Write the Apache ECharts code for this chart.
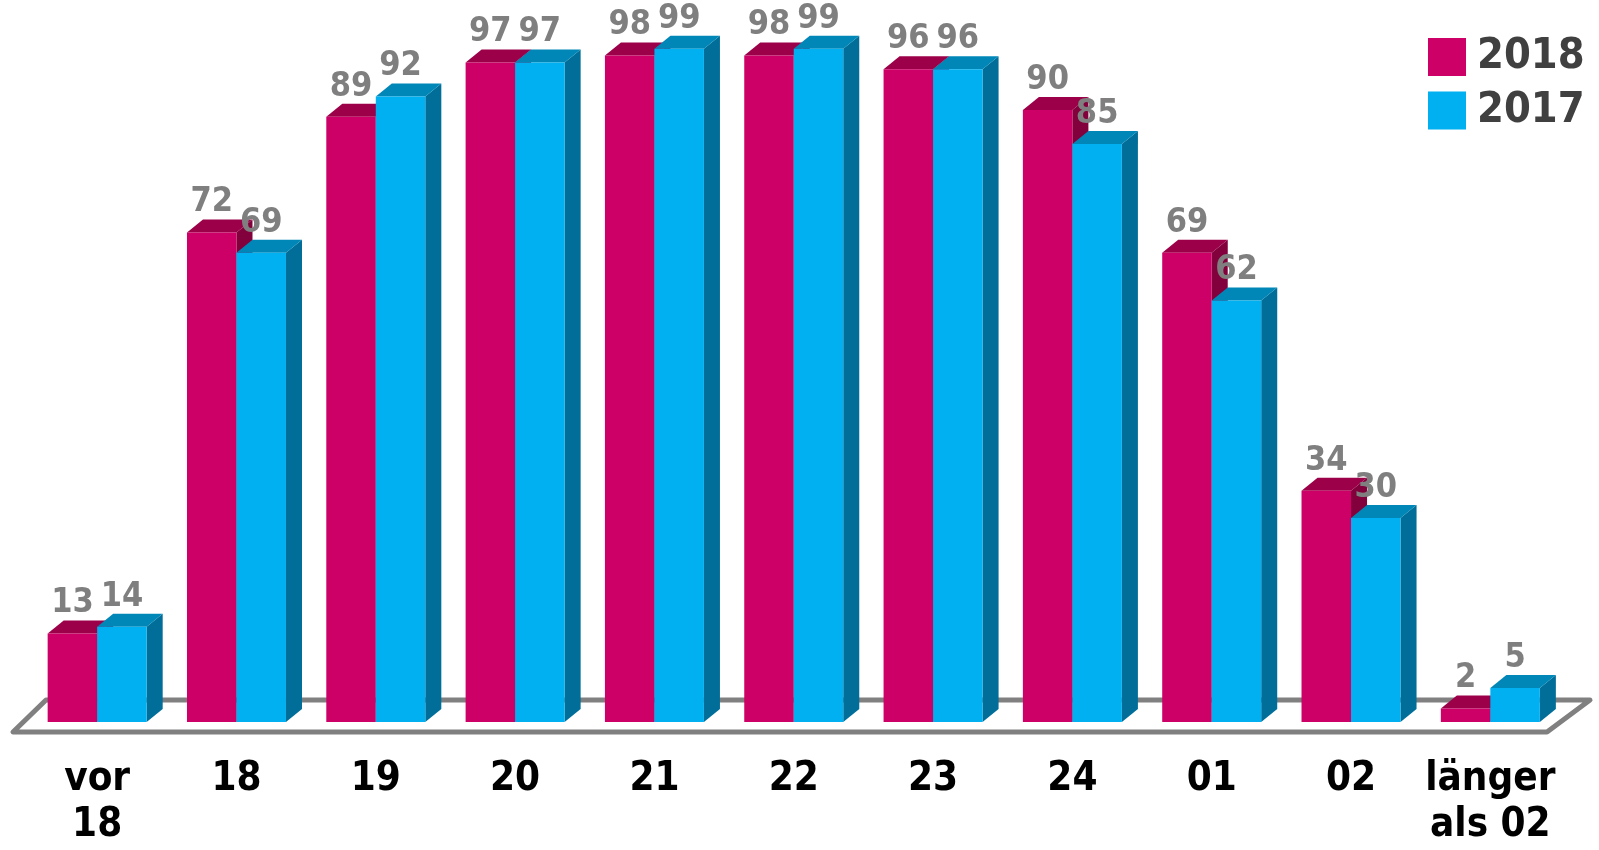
<!DOCTYPE html>
<html>
<head>
<meta charset="utf-8">
<script src="https://cdn.jsdelivr.net/npm/echarts@6/dist/echarts.min.js"></script>
<style>
html,body{margin:0;padding:0;background:#fff;}
#chart{width:1599px;height:850px;}
</style>
</head>
<body>
<div id="chart"></div>
<script>
const categories = ['vor\n18', '18', '19', '20', '21', '22', '23', '24', '01', '02', 'länger\nals 02'];
const values2018 = [13, 72, 89, 97, 98, 98, 96, 90, 69, 34, 2];
const values2017 = [14, 69, 92, 97, 99, 99, 96, 85, 62, 30, 5];
const seriesNames = ['2018', '2017'];

const FONT = '"DejaVu Sans Condensed", "DejaVu Sans", sans-serif';
const palette = [
  { front: '#CC0066', top: '#9C0049', side: '#82003B' },
  { front: '#00B0F0', top: '#0087B8', side: '#006E99' }
];

function barRenderer(idx) {
  return function (params, api) {
    const cat = api.value(0), v = api.value(1);
    const base = api.coord([cat, 0]);
    const top = api.coord([cat, v]);
    const bw = api.size([1, 0])[0];
    const w = bw * 0.3553;
    const dx = bw * 0.115, dy = 13;
    const x0 = base[0] + (idx === 0 ? -w : 0);
    const x1 = x0 + w;
    const yb = base[1], yt = top[1];
    const c = palette[idx];
    return {
      type: 'group',
      children: [
        { type: 'polygon', shape: { points: [[x1, yb], [x1 + dx, yb - dy], [x1 + dx, yt - dy], [x1, yt]] }, style: { fill: c.side } },
        { type: 'polygon', shape: { points: [[x0, yt], [x1, yt], [x1 + dx, yt - dy], [x0 + dx, yt - dy]] }, style: { fill: c.top } },
        { type: 'rect', shape: { x: x0, y: yt, width: w, height: yb - yt }, style: { fill: c.front } },
        { type: 'text', style: { text: String(v), x: (x0 + x1) / 2, y: yt - 30, align: 'center', verticalAlign: 'middle', fill: '#7F7F7F', font: 'bold 34px ' + FONT } }
      ]
    };
  };
}

function floorRenderer(params, api) {
  const bw = api.size([1, 0])[0];
  const first = api.coord([0, 0]);
  const last = api.coord([categories.length - 1, 0]);
  const fl = first[0] - bw / 2 - 14.5, fr = last[0] + bw / 2 - 13;
  const yf = first[1] + 10, yk = first[1] - 22;
  return {
    type: 'polygon',
    shape: { points: [[fl, yf], [fr, yf], [fr + 43, yk], [fl + 33, yk]] },
    style: { fill: '#ffffff', stroke: '#808080', lineWidth: 5, lineJoin: 'round' }
  };
}

const chart = echarts.init(document.getElementById('chart'), null, { renderer: 'canvas' });
chart.setOption({
  backgroundColor: '#ffffff',
  animation: false,
  grid: { left: 27.5, right: 39, top: 42, bottom: 128 },
  legend: {
    data: seriesNames,
    orient: 'vertical',
    left: 1428, top: 35.5,
    padding: 0,
    itemWidth: 38, itemHeight: 38, itemGap: 10.4,
    icon: 'rect',
    textStyle: { fontSize: 43, fontWeight: 'bold', color: '#404040', fontFamily: FONT, padding: [0, 0, 0, 6] },
    selectedMode: false
  },
  xAxis: {
    type: 'category',
    data: categories,
    axisLine: { show: false },
    axisTick: { show: false },
    axisLabel: { margin: 35, fontSize: 40, fontWeight: 'bold', color: '#000', fontFamily: FONT, lineHeight: 46, interval: 0 }
  },
  yAxis: { type: 'value', min: 0, max: 100, show: false, splitLine: { show: false } },
  series: [
    { name: 'floor', type: 'custom', silent: true, renderItem: floorRenderer, data: [[0, 0]], z: 1 },
    { name: seriesNames[0], type: 'custom', renderItem: barRenderer(0), itemStyle: { color: palette[0].front },
      data: values2018.map((v, i) => [i, v]), encode: { x: 0, y: 1 }, z: 2 },
    { name: seriesNames[1], type: 'custom', renderItem: barRenderer(1), itemStyle: { color: palette[1].front },
      data: values2017.map((v, i) => [i, v]), encode: { x: 0, y: 1 }, z: 3 }
  ]
});
</script>
</body>
</html>
